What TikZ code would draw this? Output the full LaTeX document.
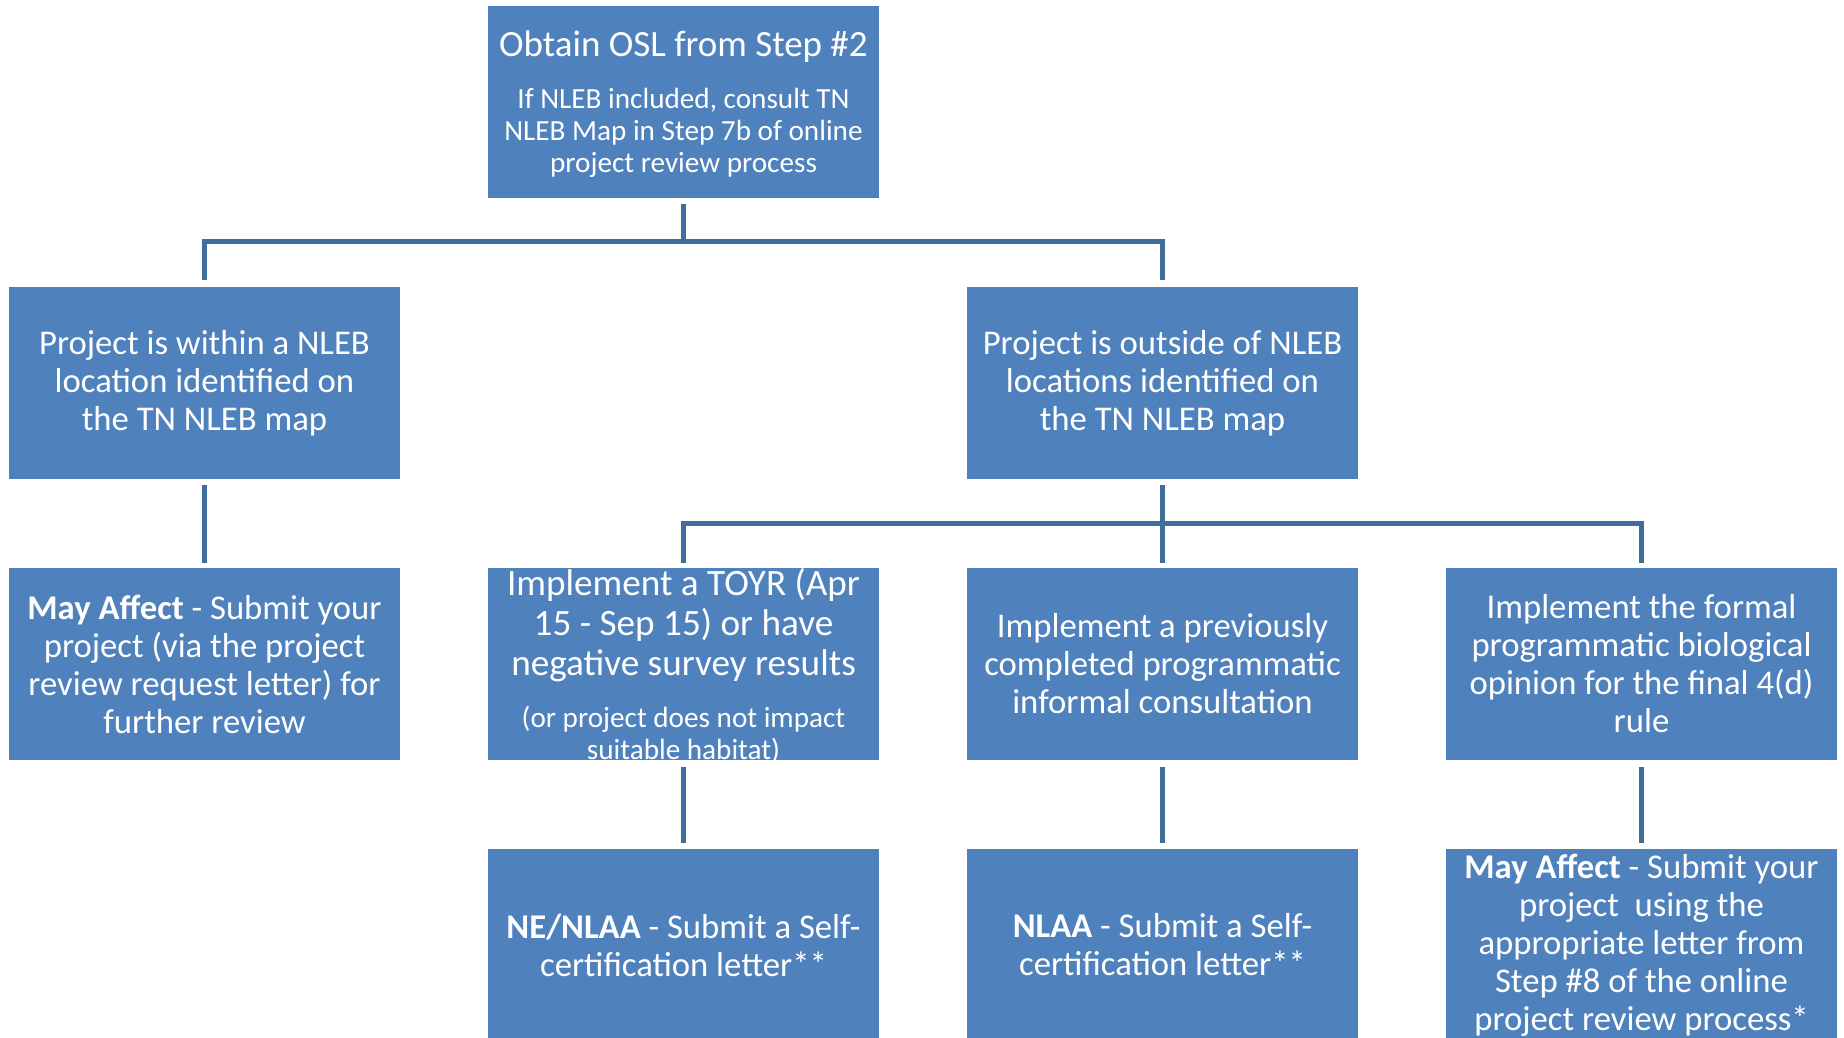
\documentclass[tikz,border=0pt]{standalone}
\usepackage{fontspec}
\setmainfont{Carlito}
\definecolor{boxblue}{HTML}{4F81BD}
\definecolor{lineblue}{RGB}{65,109,155}
\begin{document}
\begin{tikzpicture}[x=0.5pt,y=-0.5pt,
  box/.style={fill=boxblue, draw=none, minimum width=195.5pt, minimum height=96pt, inner sep=0pt, outer sep=0pt},
  txt/.style={text=white, align=center, inner sep=0pt, font=\fontsize{17.35}{19}\selectfont},
  ttl/.style={txt, font=\fontsize{18.5}{23}\selectfont},
  subt/.style={txt, font=\fontsize{14.6}{16}\selectfont},
  big/.style={txt, font=\fontsize{18.6}{20}\selectfont},
  conn/.style={draw=lineblue, line width=2.5pt}]
\useasboundingbox (0,0) rectangle (1844,1038);
% boxes
\node[box] (top) at (683.5,102) {};
\node[box] (b21) at (204.5,383) {};
\node[box] (b22) at (1162.5,383) {};
\node[box] (b31) at (204.5,664) {};
\node[box] (b32) at (683.5,664) {};
\node[box] (b33) at (1162.5,664) {};
\node[box] (b34) at (1641.5,664) {};
\node[box] (b42) at (683.5,945) {};
\node[box] (b43) at (1162.5,945) {};
\node[box] (b44) at (1641.5,945) {};
% texts
\node[ttl, anchor=base] (topt) at (683.5,57) {Obtain OSL from Step \#2};
\node[subt, anchor=north] (tops) at (683.5,87.5) {If NLEB included, consult TN\\NLEB Map in Step 7b of online\\project review process};
\node[txt] (t21) at (b21) {Project is within a NLEB\\location identified on\\the TN NLEB map};
\node[txt] (t22) at (b22) {Project is outside of NLEB\\locations identified on\\the TN NLEB map};
\node[txt] (t31) at (b31) {\textbf{May Affect} - Submit your\\project (via the project\\review request letter) for\\further review};
\node[big, anchor=north] (t32) at (683.5,568) {Implement a TOYR (Apr\\15 - Sep 15) or have\\negative survey results};
\node[subt, anchor=north] (t32s) at (683.5,706) {(or project does not impact\\suitable habitat)};
\node[txt] (t33) at (b33) {Implement a previously\\completed programmatic\\informal consultation};
\node[txt] (t34) at (b34) {Implement the formal\\programmatic biological\\opinion for the final 4(d)\\rule};
\node[txt] (t42) at (b42) {\textbf{NE/NLAA} - Submit a Self-\\certification letter**};
\node[txt] (t43) at (b43) {\textbf{NLAA} - Submit a Self-\\certification letter**};
\node[txt] (t44) at (b44) {\textbf{May Affect} - Submit your\\project\ \ using the\\appropriate letter from\\Step \#8 of the online\\project review process*};
% connectors
\coordinate (j1) at (683.5,242);
\draw[conn, shorten <=3pt] (top.south) -- (j1);
\draw[conn, shorten >=3.5pt] (j1) -| (b21.north);
\draw[conn, shorten >=3.5pt] (j1) -| (b22.north);
\draw[conn, shorten <=3pt, shorten >=2.5pt] (b21.south) -- (b31.north);
\coordinate (j2) at (1162.5,523);
\draw[conn, shorten <=3pt, shorten >=2.5pt] (b22.south) -- (b33.north);
\draw[conn, shorten >=2.5pt] (j2) -| (b32.north);
\draw[conn, shorten >=2.5pt] (j2) -| (b34.north);
\draw[conn, shorten <=3.5pt, shorten >=3pt] (b32.south) -- (b42.north);
\draw[conn, shorten <=3.5pt, shorten >=3pt] (b33.south) -- (b43.north);
\draw[conn, shorten <=3.5pt, shorten >=3pt] (b34.south) -- (b44.north);
\end{tikzpicture}
\end{document}
